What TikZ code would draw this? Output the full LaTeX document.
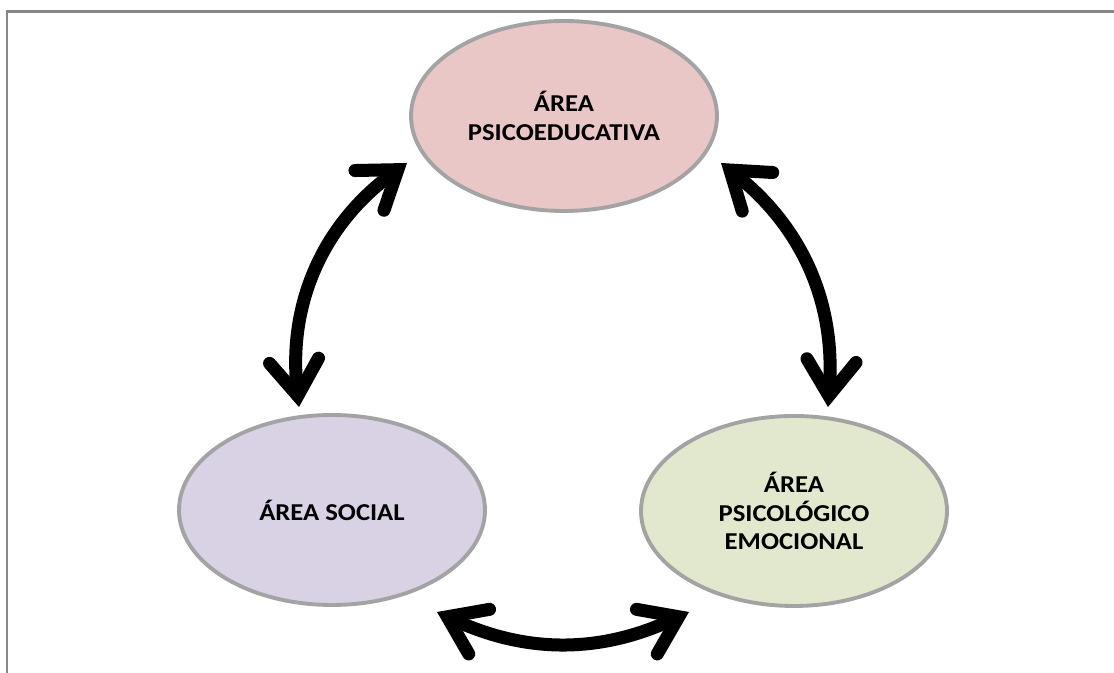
\documentclass[tikz,border=0pt]{standalone}
\usepackage{fontspec}
\setmainfont{Carlito}[FakeStretch=1.1]
\usetikzlibrary{shapes.geometric,arrows.meta}

\definecolor{rosa}{HTML}{EAC7C7}
\definecolor{lila}{HTML}{D9D1E4}
\definecolor{verde}{HTML}{E1E8CE}
\definecolor{borde}{HTML}{A3A3A3}
\definecolor{marco}{HTML}{878787}

\tikzset{
  area/.style={ellipse, draw=borde, line width=2.2pt, minimum width=6.12cm,
    minimum height=3.8cm, inner sep=0pt, align=center,
    font=\fontsize{13.8}{16.4}\selectfont\bfseries},
  punta/.tip={Straight Barb[length=20pt,width=28pt,line cap=round,line join=miter]},
  flecha/.style={line width=7.4pt, punta-punta}
}

\begin{document}
\begin{tikzpicture}
\useasboundingbox (0,0) rectangle (22.28,13.46);
\draw[marco, line width=1.7pt] (0.14,0) -- (0.14,13.23) -- (22.28,13.23);

\node[area, fill=rosa] (edu) at (11.28,11.14) {ÁREA\\PSICOEDUCATIVA};
\node[area, fill=lila] (soc) at (6.64,3.26) {ÁREA SOCIAL};
\node[area, fill=verde] (emo) at (15.88,3.24) {ÁREA\\PSICOLÓGICO\\EMOCIONAL};

\node[coordinate] (v1) at (5.98,5.32) {};
\node[coordinate] (v2) at (8.14,10.2) {};
\node[coordinate] (v3) at (14.42,10.2) {};
\node[coordinate] (v4) at (16.56,5.32) {};
\node[coordinate] (v5) at (13.78,1.22) {};
\node[coordinate] (v6) at (8.74,1.22) {};

\draw[flecha] (v1) to[bend left=30] (v2);
\draw[flecha] (v3) to[bend left=28] (v4);
\draw[flecha] (v5) to[bend left=25] (v6);

\end{tikzpicture}
\end{document}
